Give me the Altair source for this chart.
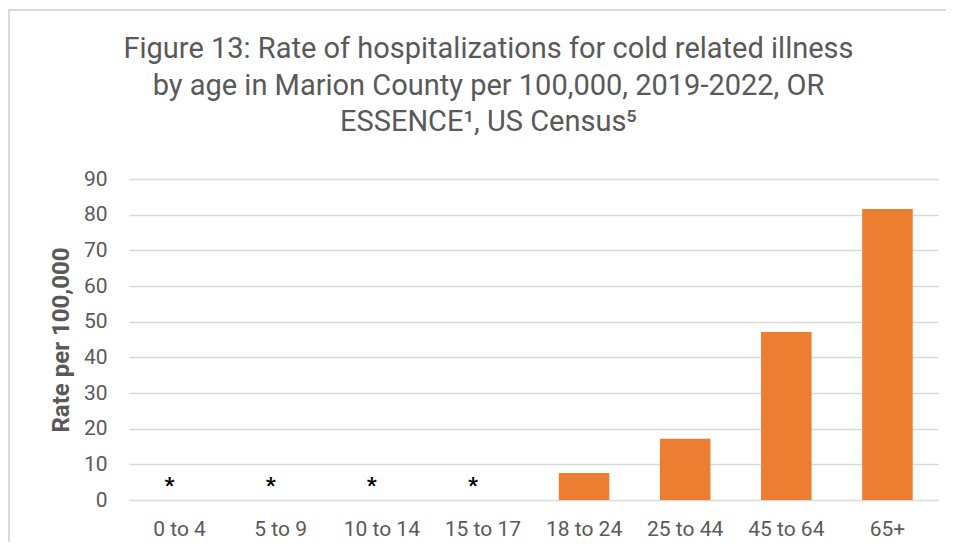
import altair as alt
import pandas as pd

age_groups = ["0 to 4", "5 to 9", "10 to 14", "15 to 17", "18 to 24", "25 to 44", "45 to 64", "65+"]
rates = [None, None, None, None, 7.6, 17.2, 47.1, 81.6]
suppressed = ["*", "*", "*", "*", "", "", "", ""]
y_ticks = [0, 10, 20, 30, 40, 50, 60, 70, 80, 90]
title_lines = [
    "Figure 13: Rate of hospitalizations for cold related illness",
    "by age in Marion County per 100,000, 2019-2022, OR",
    "ESSENCE\u00b9, US Census\u2075",
]

df = pd.DataFrame({"age": age_groups, "rate": rates, "flag": suppressed})

GRAY = "#595959"
FONT = "Roboto"

x_enc = alt.X(
    "age:N",
    sort=age_groups,
    title=None,
    scale=alt.Scale(paddingInner=0.5, paddingOuter=0.25),
    axis=alt.Axis(
        labelAngle=0, labelFont=FONT, labelFontSize=21, labelColor=GRAY,
        labelPadding=18, ticks=False, domain=False, grid=False,
    ),
)
y_axis = alt.Axis(
    values=y_ticks, labelFont=FONT, labelFontSize=21, labelColor=GRAY,
    labelPadding=22, labelOverlap=False, ticks=False, domain=False, grid=True,
    gridColor="#d9d9d9", gridWidth=1.6,
    titleFont=FONT, titleFontSize=24, titleFontWeight="bold",
    titleColor=GRAY, titlePadding=10,
)
y_enc = alt.Y(
    "rate:Q",
    title="Rate per 100,000",
    scale=alt.Scale(domain=[0, 90], nice=False),
    axis=y_axis,
)

base = alt.Chart(df)

bars = base.mark_bar(color="#ED7D31").encode(x=x_enc, y=y_enc)

stars = base.mark_text(
    font=FONT, fontSize=22, fontWeight="bold", color="#000000",
    baseline="alphabetic", dx=-10, dy=-7,
).encode(
    x=alt.X("age:N", sort=age_groups),
    y=alt.Y(datum=0, title="Rate per 100,000", axis=y_axis),
    text="flag:N",
)

frame = alt.Chart(pd.DataFrame({"f": [0]})).mark_rect(
    fill=None, stroke="#d9d9d9", strokeWidth=2
).encode(
    x=alt.value(-120), x2=alt.value(880), y=alt.value(-169), y2=alt.value(420)
)

chart = alt.layer(frame, bars, stars).properties(
    width=809,
    height=321,
    title=alt.TitleParams(
        text=title_lines, font=FONT, fontSize=29, fontWeight="normal",
        color=GRAY, lineHeight=36.5, anchor="middle", baseline="bottom",
        frame="group", dx=-45, offset=-157,
    ),
    autosize=alt.AutoSizeParams(type="none"),
    padding={"left": 121, "top": 171, "right": 8, "bottom": 42},
).configure(
    background="white", view=alt.ViewConfig(stroke=None)
).configure_axisY(labelOverlap=False)

chart.save("out.html", embed_options={"renderer": "svg", "actions": False})
